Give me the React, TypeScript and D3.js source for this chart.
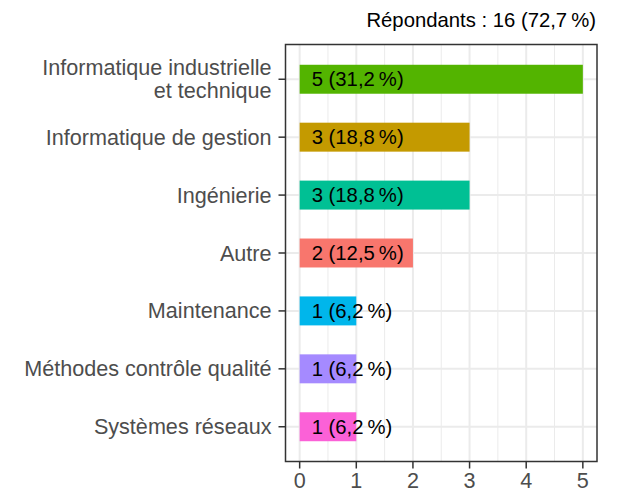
import React from "react";
import * as d3 from "d3";

const categories = [
  "Informatique industrielle\net technique",
  "Informatique de gestion",
  "Ingénierie",
  "Autre",
  "Maintenance",
  "Méthodes contrôle qualité",
  "Systèmes réseaux",
];
const counts = [5, 3, 3, 2, 1, 1, 1];
const labels = ["5 (31,2\u2009%)", "3 (18,8\u2009%)", "3 (18,8\u2009%)", "2 (12,5\u2009%)", "1 (6,2\u2009%)", "1 (6,2\u2009%)", "1 (6,2\u2009%)"];
const colors = ["#53B400", "#C49A00", "#00C094", "#F8766D", "#00B6EB", "#A58AFF", "#FB61D7"];
const xTicks = [0, 1, 2, 3, 4, 5];
const title = "Répondants : 16 (72,7\u2009%)";

const W = 618, H = 492;
const left = 285.5, right = 597, top = 44.5, bottom = 461.5;
const font = "'Liberation Sans', Arial, Helvetica, sans-serif";

export default function App() {
  const x = d3.scaleLinear().domain([-0.25, 5.25]).range([left, right]);
  const yIdx = d3.scaleLinear().domain([-0.6, 6.6]).range([top, bottom]);
  const minor = d3.range(-0.5, 5.5, 0.5).filter((v) => !Number.isInteger(v) && v > -0.25);
  return (
    <svg width={W} height={H} style={{ position: "absolute", left: 0, top: 0, fontFamily: font }}>
      <rect x={0} y={0} width={W} height={H} fill="#fff" />
      <text x={596} y={26.5} textAnchor="end" fontSize={20.3} fill="#000">{title}</text>
      {minor.map((v) => (
        <line key={"m" + v} x1={x(v)} x2={x(v)} y1={top} y2={bottom} stroke="#EBEBEB" strokeWidth={1} />
      ))}
      {xTicks.map((v) => (
        <line key={"g" + v} x1={x(v)} x2={x(v)} y1={top} y2={bottom} stroke="#EBEBEB" strokeWidth={2} />
      ))}
      {categories.map((c, i) => (
        <line key={"h" + i} x1={left} x2={right} y1={yIdx(i)} y2={yIdx(i)} stroke="#EBEBEB" strokeWidth={2} />
      ))}
      {counts.map((v, i) => {
        const bh = yIdx(0.25) - yIdx(-0.25);
        return (
          <rect key={"b" + i} x={x(0)} y={yIdx(i) - bh / 2} width={x(v) - x(0)} height={bh} fill={colors[i]} />
        );
      })}
      {labels.map((l, i) => (
        <text key={"l" + i} x={x(0) + 12} y={yIdx(i)} dy="0.35em" fontSize={20.3} fill="#000">{l}</text>
      ))}
      <rect x={left} y={top} width={right - left} height={bottom - top} fill="none" stroke="#333333" strokeWidth={1.5} />
      {categories.map((c, i) => {
        const lines = c.split("\n");
        const lh = 23;
        const y0 = yIdx(i) - ((lines.length - 1) * lh) / 2;
        return (
          <g key={"t" + i}>
            <line x1={left - 7} x2={left} y1={yIdx(i)} y2={yIdx(i)} stroke="#333333" strokeWidth={1.5} />
            <text textAnchor="end" fontSize={21.6} fill="#4D4D4D">
              {lines.map((ln, j) => (
                <tspan key={j} x={left - 14} y={y0 + j * lh} dy="0.35em">{ln}</tspan>
              ))}
            </text>
          </g>
        );
      })}
      {xTicks.map((v) => (
        <g key={"x" + v}>
          <line x1={x(v)} x2={x(v)} y1={bottom} y2={bottom + 7} stroke="#333333" strokeWidth={1.5} />
          <text x={x(v)} y={bottom + 26.5} textAnchor="middle" fontSize={21.6} fill="#4D4D4D">{v}</text>
        </g>
      ))}
    </svg>
  );
}
